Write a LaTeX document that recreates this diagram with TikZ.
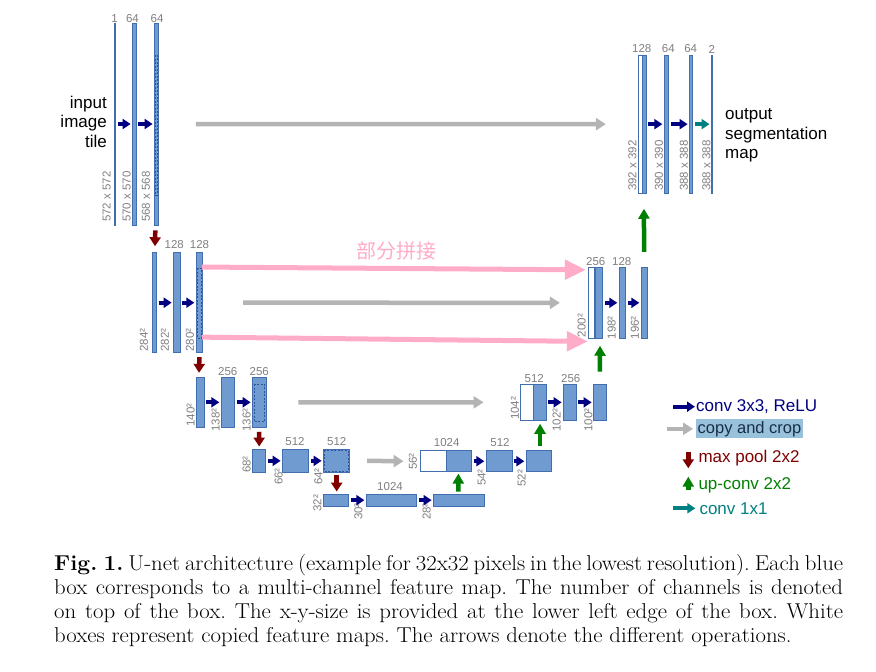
\documentclass[tikz,border=0pt]{standalone}
\usepackage{fontspec}
\newfontfamily\af{Liberation Sans}
\newfontfamily\cjk{Noto Sans CJK SC}
\usetikzlibrary{arrows.meta,fit,calc}
\definecolor{boxfill}{RGB}{112,155,208}
\definecolor{boxdraw}{RGB}{66,110,176}
\definecolor{cropc}{RGB}{45,85,155}
\definecolor{navyc}{RGB}{0,0,128}
\definecolor{greyc}{RGB}{180,180,180}
\definecolor{pinkc}{RGB}{255,172,200}
\definecolor{redc}{RGB}{128,0,0}
\definecolor{greenc}{RGB}{0,128,0}
\definecolor{tealc}{RGB}{0,128,128}
\definecolor{numc}{RGB}{128,128,128}
\definecolor{hlc}{RGB}{152,194,220}
\definecolor{hltext}{RGB}{25,45,70}
\tikzset{
  fm/.style={draw=boxdraw, fill=boxfill, line width=0.9pt, inner sep=0pt},
  wm/.style={draw=boxdraw, fill=white, line width=0.9pt, inner sep=0pt},
  cropbox/.style={draw=cropc, line width=0.8pt, dash pattern=on 2pt off 1.5pt},
  num/.style={font=\af\fontsize{11.5}{12}\selectfont, text=numc, inner sep=0pt},
  szl/.style={num, rotate=90, anchor=west},
  conv/.style={draw=navyc, line width=4pt, -{Triangle[width=10pt,length=8pt]}},
  convlast/.style={draw=tealc, line width=4pt, -{Triangle[width=10pt,length=8pt]}},
  copyarr/.style={draw=greyc, line width=4.5pt, -{Triangle[width=12pt,length=10pt]}},
  pinkarr/.style={draw=pinkc, line width=5pt, -{Triangle[width=19pt,length=21pt]}},
  pool/.style={draw=redc, line width=4.5pt, -{Triangle[width=11pt,length=9pt]}},
  upc/.style={draw=greenc, line width=4.5pt, -{Triangle[width=11pt,length=10pt]}},
  lbl/.style={font=\af\fontsize{17}{19.5}\selectfont, inner sep=0pt},
}
\begin{document}
\begin{tikzpicture}[x=1pt,y=-1pt]
\fill[white] (0,0) rectangle (876,672);
\useasboundingbox (0,0) rectangle (876,672);

% ---------- level 1 (left) ----------
\node[fm, fit={(114.6,23) (115.8,225)}] (a1) {};
\node[fm, fit={(132.3,23) (136,225)}] (a2) {};
\node[fm, fit={(154.3,23) (158.3,225)}] (a3) {};
\draw[cropbox] (155.4,55) rectangle (157.2,195);
\node[num] (n11) at (114.5,19) {1};
\node[num] (n12) at (132.5,19) {64};
\node[num] (n13) at (157,19) {64};
\node[szl] (s11) at (106.7,222) {572 x 572};
\node[szl] (s12) at (126.7,222) {570 x 570};
\node[szl] (s13) at (146,222) {568 x 568};
\node[lbl, align=right, anchor=east] (inp) at (107,121.5) {input\\image\\tile};

% ---------- level 1 (right) ----------
\node[wm, fit={(638.3,55) (642.3,193.3)}] (t1w) {};
\node[fm, fit={(642.3,55) (646,193.3)}] (t1b) {};
\node[fm, fit={(664,55) (668.3,193.3)}] (t2) {};
\node[fm, fit={(689.3,55) (692.7,193.3)}] (t3) {};
\node[fm, fit={(711.2,55) (712.3,193.3)}] (t4) {};
\node[num] (n1r1) at (641.7,49) {128};
\node[num] (n1r2) at (668.3,49) {64};
\node[num] (n1r3) at (690.7,49) {64};
\node[num] (n1r4) at (711.7,49) {2};
\node[szl] (s1r1) at (632.3,191) {392 x 392};
\node[szl] (s1r2) at (659,191) {390 x 390};
\node[szl] (s1r3) at (684,191) {388 x 388};
\node[szl] (s1r4) at (706.5,191) {388 x 388};
\node[lbl, align=left, anchor=west] (outp) at (725,135.5) {output\\segmentation\\map};

% ---------- level 2 (left) ----------
\node[fm, fit={(152.7,252.7) (156.3,352.7)}] (b1) {};
\node[fm, fit={(173.3,252.7) (180,352.7)}] (b2) {};
\node[fm, fit={(196,252.7) (202.7,352.7)}] (b3) {};
\draw[cropbox] (197.8,268) rectangle (201.8,338);
\node[num] (n22) at (174.2,245) {128};
\node[num] (n23) at (199.5,245) {128};
\node[szl] (s21) at (144,351.7) {284²};
\node[szl] (s22) at (165,351.7) {282²};
\node[szl] (s23) at (190,351.7) {280²};

% ---------- level 2 (right) ----------
\node[wm, fit={(588.3,267.3) (594.3,338.3)}] (r2w) {};
\node[fm, fit={(595.7,267.3) (602.3,338.3)}] (r2b) {};
\node[fm, fit={(619,267.3) (625.7,338.3)}] (r2c) {};
\node[fm, fit={(641,267.3) (647.7,338.3)}] (r2d) {};
\node[num] (n2r1) at (595.7,261.7) {256};
\node[num] (n2r2) at (621.7,261.7) {128};
\node[szl] (s2r1) at (581.7,337.3) {200²};
\node[szl] (s2r2) at (611.7,339.5) {198²};
\node[szl] (s2r3) at (635,339.5) {196²};

% ---------- level 3 (left) ----------
\node[fm, fit={(196.7,377.3) (204,427.3)}] (c1) {};
\node[fm, fit={(221,377.3) (234.3,427.3)}] (c2) {};
\node[fm, fit={(252.3,377.3) (266,427.3)}] (c3) {};
\draw[cropbox] (254,384) rectangle (264.5,421.7);
\node[num] (n32) at (227.7,371.7) {256};
\node[num] (n33) at (259.3,371.7) {256};
\node[szl] (s31) at (190.7,426.7) {140²};
\node[szl] (s32) at (215.7,431.7) {138²};
\node[szl] (s33) at (246.7,431.7) {136²};

% ---------- level 3 (right) ----------
\node[wm, fit={(520.7,384) (533.3,420.7)}] (r3w) {};
\node[fm, fit={(533.3,384) (546,420.7)}] (r3b) {};
\node[fm, fit={(563.3,384) (576,420.7)}] (r3c) {};
\node[fm, fit={(593.3,384) (606,420.7)}] (r3d) {};
\node[num] (n3r1) at (534.3,378.3) {512};
\node[num] (n3r2) at (570.7,378.3) {256};
\node[szl] (s3r1) at (515,420) {104²};
\node[szl] (s3r2) at (556.7,431.7) {102²};
\node[szl] (s3r3) at (588.3,431.7) {100²};

% ---------- level 4 ----------
\node[fm, fit={(252.7,449) (265.7,472.7)}] (d1) {};
\node[fm, fit={(282.3,449) (308.3,472.7)}] (d2) {};
\node[fm, fit={(323.3,449) (349.3,472.7)}] (d3) {};
\draw[cropbox] (324.6,450.4) rectangle (348,471.3);
\node[wm, fit={(420.7,450.7) (446,471.7)}] (d4w) {};
\node[fm, fit={(446,450.7) (471.7,471.7)}] (d4b) {};
\node[fm, fit={(486,450.7) (512,471.7)}] (d5) {};
\node[fm, fit={(526,450.7) (551.7,471.7)}] (d6) {};
\node[num] (n42) at (295,441.7) {512};
\node[num] (n43) at (336.7,441.7) {512};
\node[num] (n44) at (446.7,443) {1024};
\node[num] (n45) at (500,443) {512};
\node[szl] (s41) at (246.7,473) {68²};
\node[szl] (s42) at (278.7,485) {66²};
\node[szl] (s43) at (318.3,485) {64²};
\node[szl] (s44) at (413,470) {56²};
\node[szl] (s45) at (481.7,486) {54²};
\node[szl] (s46) at (521.7,486.7) {52²};

% ---------- level 5 ----------
\node[fm, fit={(323.3,494.3) (348.3,506)}] (e1) {};
\node[fm, fit={(366,494.3) (416.7,506)}] (e2) {};
\node[fm, fit={(433.3,494.3) (484.3,506)}] (e3) {};
\node[num] (n52) at (390,487) {1024};
\node[szl] (s51) at (317.3,511.7) {32²};
\node[szl] (s52) at (358.3,520) {30²};
\node[szl] (s53) at (426.7,520) {28²};

% ---------- conv arrows ----------
\foreach \p/\q in {a1/a2,a2/a3,b1/b2,b2/b3,c1/c2,c2/c3,d1/d2,d2/d3,e1/e2,e2/e3,
                   d4b/d5,d5/d6,r3b/r3c,r3c/r3d,r2b/r2c,r2c/r2d,t1b/t2,t2/t3}
  \draw[conv] ([xshift=2pt]\p.east) -- ([xshift=-1.2pt]\q.west);
\draw[convlast] ([xshift=2.3pt]t3.east) -- ([xshift=-1.2pt]t4.west);

% ---------- copy and crop ----------
\draw[copyarr] ([xshift=37pt]a3.east) -- ([xshift=-32pt]t1w.west);
\draw[copyarr] ([xshift=40pt]b3.east) -- ([xshift=-28pt]r2w.west);
\draw[copyarr] ([xshift=32pt]c3.east) -- ([xshift=-36.7pt]r3w.west);
\draw[copyarr] ([xshift=17.4pt]d3.east) -- ([xshift=-16.7pt]d4w.west);

% ---------- pink partial concatenation ----------
\draw[pinkarr] ($(b3.north east)+(-1,14.8)$) -- ($(r2w.north west)+(-2,3)$);
\draw[pinkarr] ($(b3.south east)+(-1,-16)$) -- ($(r2w.south west)+(0,2.7)$);
\node[font=\cjk\fontsize{20}{22}\selectfont, text=pinkc, inner sep=0pt] (cjkt) at (396,250.5) {部分拼接};

% ---------- max pool ----------
\draw[pool] ($(a3.south)+(-1,5)$) -- ($(b1.north)+(0.5,-6)$);
\draw[pool] ($(b3.south)+(0,4)$) -- ($(c1.north)+(-1.3,-4)$);
\draw[pool] ($(c3.south)+(0,4)$) -- ($(d1.north)+(0,-2)$);
\draw[pool] ($(d3.south)+(0.4,2)$) -- ($(e1.north)+(0.9,-2.3)$);

% ---------- up-conv ----------
\draw[upc] ($(e3.north)+(-0.5,-2.3)$) -- ($(d4b.south)+(-0.5,1.5)$);
\draw[upc] ($(d6.north)+(1.2,-4.3)$) -- ($(r3b.south)+(0.4,2.6)$);
\draw[upc] ($(r3d.north)+(0.3,-12)$) -- ($(r2b.south)+(1,7)$);
\draw[upc] ($(r2d.north)+(-0.3,-15)$) -- ($(t1b.south)+(-0.2,15)$);

% ---------- legend ----------
\node[lbl, anchor=west, text=navyc] (lg1) at (696,406.7) {conv 3x3, ReLU};
\node[font=\af\fontsize{16.5}{18}\selectfont, text=hltext, fill=hlc, inner xsep=1.5pt, inner ysep=0pt,
      minimum height=19pt, anchor=west] (lg2) at (696,428.8) {copy and crop};
\node[lbl, anchor=west, text=redc] (lg3) at (698.3,458.3) {max pool 2x2};
\node[lbl, anchor=west, text=greenc] (lg4) at (698.3,485) {up-conv 2x2};
\node[lbl, anchor=west, text=tealc] (lg5) at (699.3,508.3) {conv 1x1};
\draw[conv] ([xshift=-23pt]lg1.west) -- ([xshift=-1pt]lg1.west);
\draw[copyarr] ([xshift=-29pt]lg2.west) -- ([xshift=-3pt]lg2.west);
\draw[pool] ([xshift=-10pt,yshift=6.6pt]lg3.west) -- ([xshift=-10pt,yshift=-10pt]lg3.west);
\draw[upc] ([xshift=-10pt,yshift=-5pt]lg4.west) -- ([xshift=-10pt,yshift=8.3pt]lg4.west);
\draw[convlast] ([xshift=-26pt]lg5.west) -- ([xshift=-4pt]lg5.west);

% ---------- caption ----------
\node[anchor=base west, inner sep=0pt] (cap) at (54,570) {\scalebox{1.06}[1]{\vtop{\hsize=744.3pt
  \fontsize{21.5}{24}\selectfont\frenchspacing
  \hbox to\hsize{\textbf{Fig. 1.} U-net architecture (example for 32x32 pixels in the lowest resolution). Each blue}
  \hbox to\hsize{box corresponds to a multi-channel feature map. The number of channels is denoted}
  \hbox to\hsize{on top of the box. The x-y-size is provided at the lower left edge of the box. White}
  \hbox{boxes represent copied feature maps. The arrows denote the different operations.}}}};
\end{tikzpicture}
\end{document}
